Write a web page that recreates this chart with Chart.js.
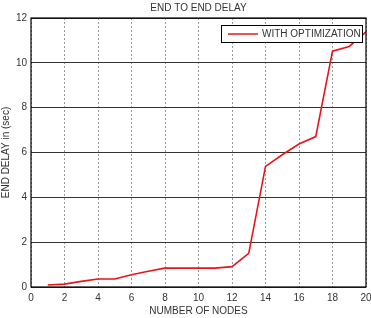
<!DOCTYPE html>
<html>
<head>
<meta charset="utf-8">
<script src="https://cdn.jsdelivr.net/npm/chart.js@4"></script>
<style>
  html, body { margin: 0; padding: 0; background: #fff; }
  #wrap { width: 371px; height: 318px; }
</style>
</head>
<body>
<div id="wrap"><canvas id="chart"></canvas></div>
<script>
const nodes = [1, 2, 3, 4, 5, 6, 7, 8, 9, 10, 11, 12, 13, 14, 15, 16, 17, 18, 19, 20];
const delayWithOpt = [0.09, 0.13, 0.25, 0.36, 0.36, 0.55, 0.7, 0.84, 0.84, 0.84, 0.84, 0.91, 1.5, 5.38, 5.9, 6.38, 6.71, 10.52, 10.73, 11.38];
const xTicks = [0, 2, 4, 6, 8, 10, 12, 14, 16, 18, 20];
const yTicks = [0, 2, 4, 6, 8, 10, 12];
const chartTitle = 'END TO END DELAY';

const fontFam = '"Liberation Sans", Arial, sans-serif';

// frame round the plot, title over it and legend box inside it
const framePlugin = {
  id: 'frame',
  afterDraw(chart) {
    const ctx = chart.ctx, a = chart.chartArea;
    ctx.save();
    ctx.strokeStyle = '#000';
    ctx.lineWidth = 1.2;
    ctx.strokeRect(a.left, a.top, a.right - a.left, a.bottom - a.top);

    ctx.fillStyle = '#333';
    ctx.font = '10px ' + fontFam;
    ctx.textAlign = 'center';
    ctx.textBaseline = 'middle';
    ctx.fillText(chartTitle, (a.left + a.right) / 2, 8);

    const ds = chart.data.datasets[0];
    const bx = a.right - 145, by = a.top + 7, bw = 141, bh = 17;
    ctx.fillStyle = '#fff';
    ctx.fillRect(bx, by, bw, bh);
    ctx.strokeStyle = '#000';
    ctx.lineWidth = 1;
    ctx.strokeRect(bx + 0.5, by + 0.5, bw, bh);
    ctx.strokeStyle = ds.borderColor;
    ctx.lineWidth = 1.5;
    ctx.beginPath();
    ctx.moveTo(bx + 7, by + bh / 2 + 0.5);
    ctx.lineTo(bx + 37, by + bh / 2 + 0.5);
    ctx.stroke();
    ctx.fillStyle = '#333';
    ctx.textAlign = 'left';
    ctx.fillText(ds.label, bx + 41, by + bh / 2 + 1);
    ctx.restore();
  }
};

new Chart(document.getElementById('chart'), {
  type: 'line',
  data: {
    labels: nodes,
    datasets: [{
      label: 'WITH OPTIMIZATION',
      data: nodes.map((n, i) => ({ x: n, y: delayWithOpt[i] })),
      borderColor: '#e8141c',
      borderWidth: 1.6,
      pointRadius: 0,
      tension: 0,
      fill: false
    }]
  },
  options: {
    responsive: true,
    maintainAspectRatio: false,
    animation: false,
    layout: { autoPadding: false, padding: { left: 0, right: 5, top: 18, bottom: 0 } },
    plugins: {
      legend: { display: false },
      tooltip: { enabled: false },
      title: { display: false }
    },
    scales: {
      x: {
        type: 'linear',
        min: 0, max: 20,
        afterBuildTicks: s => { s.ticks = xTicks.map(v => ({ value: v })); },
        afterFit: s => { s.height = 31; s.paddingLeft = 0; s.paddingRight = 0; },
        ticks: { color: '#333', font: { family: fontFam, size: 10 }, padding: 5, maxRotation: 0, autoSkip: false },
        grid: { color: '#999', lineWidth: 1, drawTicks: false },
        border: { display: false, dash: [2, 2] },
        title: {
          display: true,
          text: 'NUMBER OF NODES',
          color: '#333',
          font: { family: fontFam, size: 10 },
          padding: { top: 0, bottom: 1 }
        }
      },
      y: {
        min: 0, max: 12,
        afterBuildTicks: s => { s.ticks = yTicks.map(v => ({ value: v })); },
        afterFit: s => { s.width = 31; s.paddingTop = 0; s.paddingBottom = 0; },
        ticks: { color: '#333', font: { family: fontFam, size: 10 }, padding: 4 },
        grid: { color: '#333', lineWidth: 1, drawTicks: false },
        border: { display: false },
        title: {
          display: true,
          text: 'END DELAY in (sec)',
          color: '#333',
          font: { family: fontFam, size: 10 },
          padding: { top: 0, bottom: 0 }
        }
      }
    }
  },
  plugins: [framePlugin]
});
</script>
</body>
</html>
